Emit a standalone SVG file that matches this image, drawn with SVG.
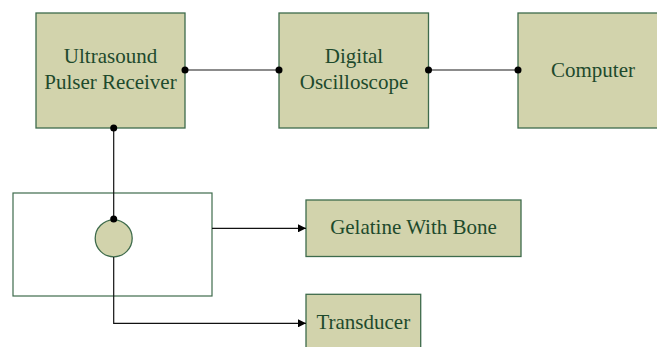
<svg xmlns="http://www.w3.org/2000/svg" width="657" height="347" viewBox="0 0 657 347">
<style>
.box{fill:#d2d3ac;stroke:#3e6b4c;stroke-width:1.3}
.t{font-family:"Liberation Serif","Times New Roman",serif;font-size:21px;fill:#1e4a2c;text-anchor:middle}
.ln{fill:none;stroke:#666;stroke-width:1.6}
.ar{fill:none;stroke:#111;stroke-width:1.2}
.dot{fill:#000}
</style>
<defs>
<marker id="ah" viewBox="0 0 10 10" refX="10" refY="5" markerWidth="8" markerHeight="8" markerUnits="userSpaceOnUse" orient="auto">
<path d="M0,0 L10,5 L0,10 z" fill="#000"/>
</marker>
</defs>
<g id="pulser"><rect class="box" x="36" y="13" width="149" height="115"/><text class="t" x="110.5" y="63">Ultrasound</text><text class="t" x="110.5" y="89">Pulser Receiver</text></g>
<g id="oscilloscope"><rect class="box" x="279" y="13" width="149.5" height="115"/><text class="t" x="354" y="63">Digital</text><text class="t" x="354" y="89">Oscilloscope</text></g>
<g id="computer"><rect class="box" x="518" y="13" width="150" height="115"/><text class="t" x="593" y="77">Computer</text></g>
<g id="tank"><rect x="13" y="193" width="199" height="103" fill="#fff" stroke="#3e6b4c" stroke-width="1.2"/></g>
<g id="probe"><circle cx="113.7" cy="238.3" r="18.5" class="box"/></g>
<g id="gelatine"><rect class="box" x="306" y="200" width="215" height="56.5"/><text class="t" x="413.5" y="234">Gelatine With Bone</text></g>
<g id="transducer"><rect class="box" x="306" y="294.3" width="114.7" height="60"/><text class="t" x="363.3" y="329">Transducer</text></g>
<g id="connectors">
<line class="ln" x1="185" y1="70" x2="279" y2="70"/>
<line class="ln" x1="428.5" y1="70" x2="518" y2="70"/>
<line class="ar" x1="113.7" y1="128" x2="113.7" y2="219"/>
<line class="ar" x1="212" y1="228.3" x2="306" y2="228.3" marker-end="url(#ah)"/>
<polyline class="ar" points="113.7,257 113.7,323.3 306,323.3" marker-end="url(#ah)"/>
<circle class="dot" cx="185" cy="70" r="3.5"/>
<circle class="dot" cx="279" cy="70" r="3.5"/>
<circle class="dot" cx="428.5" cy="70" r="3.5"/>
<circle class="dot" cx="518" cy="70" r="3.5"/>
<circle class="dot" cx="113.7" cy="128" r="3.5"/>
<circle class="dot" cx="113.7" cy="219" r="3.5"/>
</g>
</svg>
